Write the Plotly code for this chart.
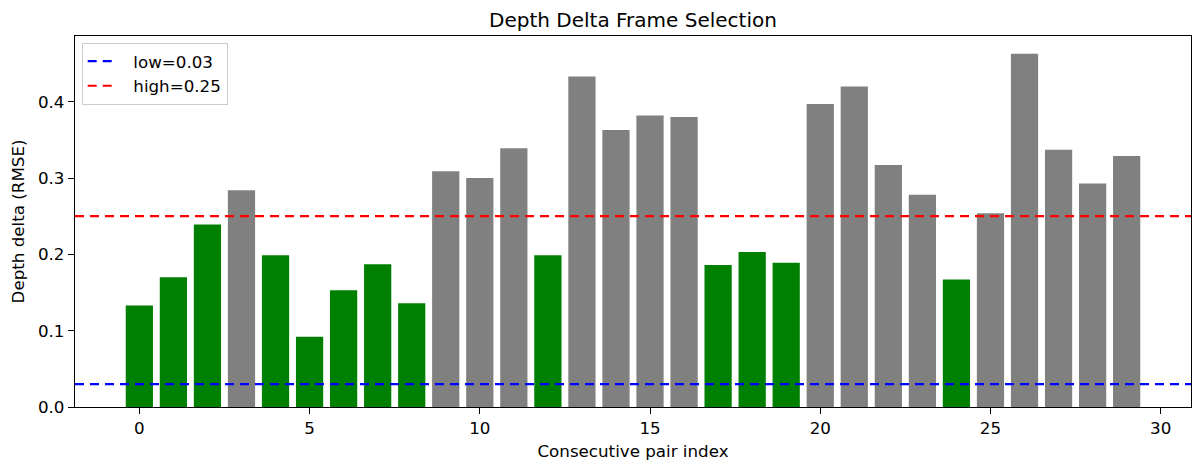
import plotly.graph_objects as go

pair_index = list(range(30))
depth_delta = [0.133, 0.170, 0.239, 0.284, 0.199, 0.092, 0.153, 0.187, 0.136, 0.309,
               0.300, 0.339, 0.199, 0.433, 0.363, 0.382, 0.380, 0.186, 0.203, 0.189,
               0.397, 0.420, 0.317, 0.278, 0.167, 0.254, 0.463, 0.337, 0.293, 0.329]
selected = [True, True, True, False, True, True, True, True, True, False,
            False, False, True, False, False, False, False, True, True, True,
            False, False, False, False, True, False, False, False, False, False]
low_thr = 0.03
high_thr = 0.25

colors = ["green" if s else "gray" for s in selected]

fig = go.Figure()
fig.add_trace(go.Bar(x=pair_index, y=depth_delta, width=0.8, marker=dict(color=colors, line=dict(width=0)),
                     showlegend=False))

for thr, col, name in [(low_thr, "blue", f"low={low_thr}"), (high_thr, "red", f"high={high_thr}")]:
    fig.add_shape(type="line", xref="paper", x0=0, x1=1, yref="y", y0=thr, y1=thr,
                  line=dict(color=col, width=2.2, dash="9px,6px"))
    fig.add_trace(go.Scatter(x=[None], y=[None], mode="lines", name="\u00a0\u00a0" + name,
                             line=dict(color=col, width=2.2, dash="9px,6px")))

ymax = max(depth_delta) * 1.05
n = len(pair_index)
pad = (n - 1 + 0.8) * 0.05

fig.update_layout(
    width=1202, height=472,
    margin=dict(l=75, r=11, t=36, b=65),
    plot_bgcolor="white", paper_bgcolor="white",
    font=dict(family="DejaVu Sans", size=16.7, color="black"),
    title=dict(text="Depth Delta Frame Selection", x=0.5, xref="paper", xanchor="center",
               y=1 - 20 / 472, yref="container", yanchor="middle",
               font=dict(size=20, color="black")),
    xaxis=dict(range=[-0.4 - pad, n - 1 + 0.4 + pad], tickmode="linear", tick0=0, dtick=5,
               showgrid=False, zeroline=False, showline=True, linecolor="black", linewidth=1.3,
               mirror=True, ticks="outside", ticklen=6, tickcolor="black", tickwidth=1.3,
               title=dict(text="Consecutive pair index", standoff=8, font=dict(size=16.7))),
    yaxis=dict(range=[0, ymax], tickmode="linear", tick0=0, dtick=0.1, tickformat=".1f",
               showgrid=False, zeroline=False, showline=True, linecolor="black", linewidth=1.3,
               mirror=True, ticks="outside", ticklen=6, tickcolor="black", tickwidth=1.3,
               title=dict(text="Depth delta (RMSE)", standoff=9, font=dict(size=16.7))),
    legend=dict(x=0.006, y=0.982, xanchor="left", yanchor="top", bgcolor="rgba(255,255,255,0.8)",
                bordercolor="#cccccc", borderwidth=1, font=dict(size=16.7),
                itemwidth=30, tracegroupgap=2),
)

fig.write_html("out.html")
